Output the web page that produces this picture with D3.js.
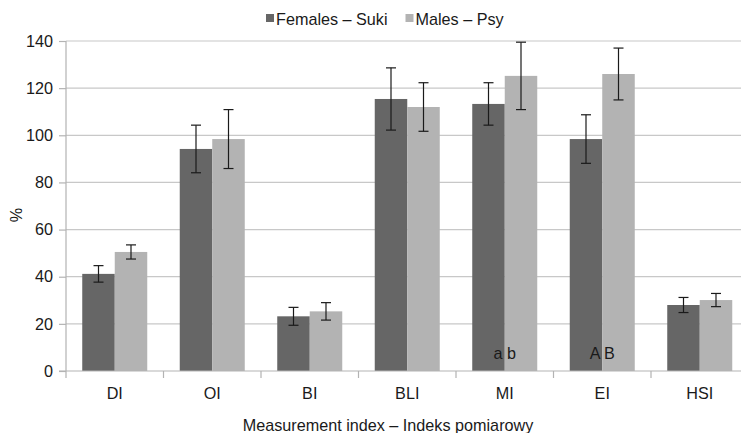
<!DOCTYPE html>
<html><head><meta charset="utf-8">
<script src="https://cdn.jsdelivr.net/npm/d3@7"></script>
<style>body{margin:0;background:#fff}svg{display:block;font-family:"Liberation Sans",Arial,sans-serif}</style>
</head><body>
<svg id="c" width="741" height="433"></svg>
<script>
const categories = ["DI","OI","BI","BLI","MI","EI","HSI"];
const seriesNames = ["Females – Suki","Males – Psy"];
const females = [41.2, 94.2, 23.2, 115.4, 113.3, 98.4, 28.0];
const femalesErr = [3.5, 10.1, 3.8, 13.2, 9.0, 10.3, 3.2];
const males = [50.5, 98.4, 25.3, 112.0, 125.2, 126.0, 30.1];
const malesErr = [3.0, 12.5, 3.7, 10.3, 14.3, 11.0, 2.8];
const yTicks = [0,20,40,60,80,100,120,140];
const annotations = [{cat:"MI", text:"a b"},{cat:"EI", text:"A B"}];
const colors = ["#666666","#b3b3b3"];
const FS = "16.2px";

const svg = d3.select("#c");
const m = {l:66, t:41, r:748.5, b:371};
const x = d3.scaleBand().domain(categories).range([m.l, m.r]).paddingInner(0).paddingOuter(0);
const xs = d3.scaleBand().domain([0,1]).range([0, x.bandwidth()]).paddingInner(0).paddingOuter(0.5);
const y = d3.scaleLinear().domain([0,140]).range([m.b, m.t]);

// gridlines
svg.append("g").selectAll("line").data(yTicks.filter(d=>d>0)).join("line")
  .attr("x1", m.l).attr("x2", 741).attr("y1", d=>y(d)).attr("y2", d=>y(d))
  .attr("stroke", "#c8c8c8").attr("stroke-width", 1.2);

const data = [females, males];
const errs = [femalesErr, malesErr];
const g = svg.append("g");
categories.forEach((c,i)=>{
  [0,1].forEach(s=>{
    const v = data[s][i];
    g.append("rect").attr("x", x(c)+xs(s)).attr("width", xs.bandwidth())
      .attr("y", y(v)).attr("height", y(0)-y(v)).attr("fill", colors[s]);
  });
});
// axes
const yAxis = d3.axisLeft(y).tickValues(yTicks).tickSize(7).tickPadding(6);
const ya = svg.append("g").attr("transform", `translate(${m.l},0)`).call(yAxis);
ya.select(".domain").remove();
ya.selectAll(".tick line").attr("stroke","#b3b3b3").attr("stroke-width",1.2).attr("x2",-7);
ya.selectAll("text").attr("font-size",FS).attr("fill","#1a1a1a").attr("font-family","Liberation Sans, Arial, sans-serif");
svg.append("line").attr("x1",m.l).attr("x2",m.l).attr("y1",m.t).attr("y2",m.b+7).attr("stroke","#b3b3b3").attr("stroke-width",1.2);
svg.append("line").attr("x1",m.l-7).attr("x2",741).attr("y1",m.b).attr("y2",m.b).attr("stroke","#b3b3b3").attr("stroke-width",1.2);
// x ticks at band boundaries
svg.append("g").selectAll("line").data(categories.slice(1)).join("line")
  .attr("x1", d=>x(d)).attr("x2", d=>x(d)).attr("y1", m.b).attr("y2", m.b+7)
  .attr("stroke","#b3b3b3").attr("stroke-width",1.2);
svg.append("g").selectAll("text").data(categories).join("text")
  .attr("x", d=>x(d)+x.bandwidth()/2).attr("y", 398.5).attr("text-anchor","middle")
  .attr("font-size",FS).attr("fill","#1a1a1a").text(d=>d);

// error bars
categories.forEach((c,i)=>{
  [0,1].forEach(s=>{
    const cx = x(c)+xs(s)+xs.bandwidth()/2;
    const v = data[s][i], e = errs[s][i];
    const eg = g.append("g").attr("stroke","#1a1a1a").attr("stroke-width",1.2);
    eg.append("line").attr("x1",cx).attr("x2",cx).attr("y1",y(v+e)).attr("y2",y(v-e));
    eg.append("line").attr("x1",cx-5).attr("x2",cx+5).attr("y1",y(v+e)).attr("y2",y(v+e));
    eg.append("line").attr("x1",cx-5).attr("x2",cx+5).attr("y1",y(v-e)).attr("y2",y(v-e));
  });
});

// annotations
svg.append("g").selectAll("text").data(annotations).join("text")
  .attr("x", d=>x(d.cat)+x.bandwidth()/2).attr("y", 358.5).attr("text-anchor","middle")
  .attr("font-size",FS).attr("fill","#1a1a1a").text(d=>d.text);

// axis titles
svg.append("text").attr("x",388).attr("y",430.5).attr("text-anchor","middle")
  .attr("font-size",FS).attr("fill","#1a1a1a").text("Measurement index – Indeks pomiarowy");
svg.append("text").attr("transform","translate(22,215) rotate(-90)").attr("text-anchor","middle")
  .attr("font-size",FS).attr("fill","#1a1a1a").text("%");

// legend
const lg = svg.append("g");
const lx = [266, 405.5];
seriesNames.forEach((n,i)=>{
  lg.append("rect").attr("x",lx[i]).attr("y",14).attr("width",8).attr("height",8).attr("fill",colors[i]);
  lg.append("text").attr("x",lx[i]+10).attr("y",24.5).attr("font-size",FS).attr("fill","#1a1a1a").text(n);
});
</script>
</body></html>
